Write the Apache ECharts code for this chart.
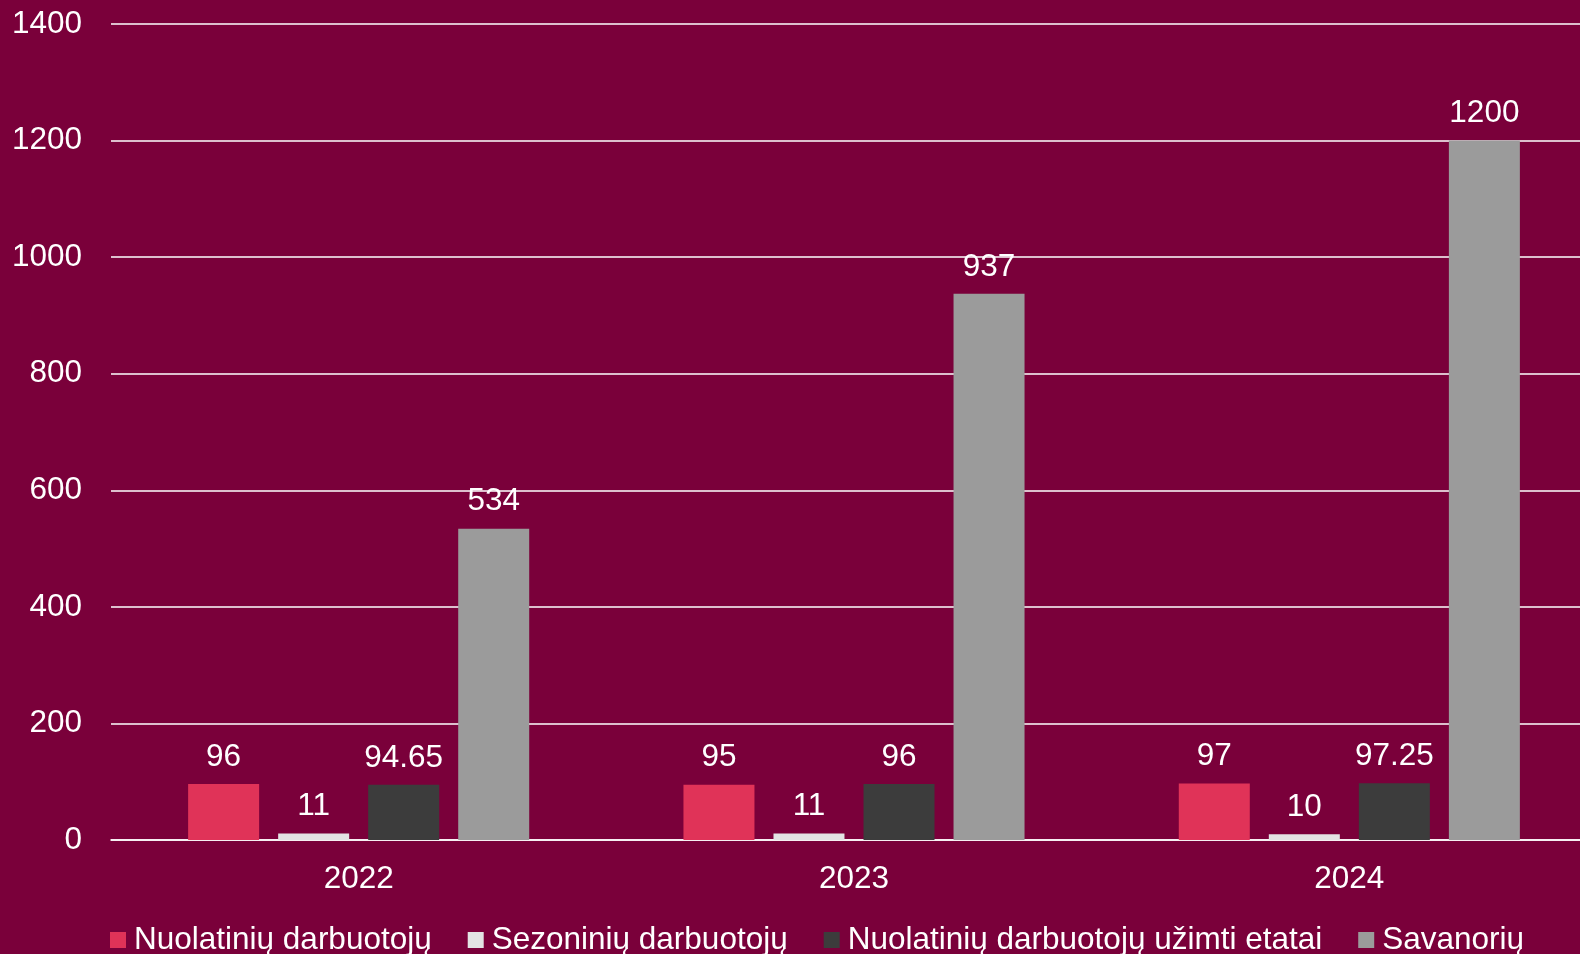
<!DOCTYPE html>
<html>
<head>
<meta charset="utf-8">
<script src="https://cdn.jsdelivr.net/npm/echarts@6/dist/echarts.min.js"></script>
<style>
html,body{margin:0;padding:0;background:#7a003a;overflow:hidden;width:1580px;height:954px;}
#c{width:1600px;height:954px;}
</style>
</head>
<body>
<div id="c"></div>
<script>
const categories = ['2022', '2023', '2024'];
const seriesNames = ['Nuolatinių darbuotojų', 'Sezoninių darbuotojų', 'Nuolatinių darbuotojų užimti etatai', 'Savanorių'];
const nuolatiniu = [96, 95, 97];
const sezoniniu = [11, 11, 10];
const etatai = [94.65, 96, 97.25];
const savanoriu = [534, 937, 1200];
const yTicks = [0, 200, 400, 600, 800, 1000, 1200, 1400];

const colors = ['#e03358', '#e3e3e3', '#3c3c3c', '#9b9b9b'];
const values = [nuolatiniu, sezoniniu, etatai, savanoriu];
const FONT = '"Liberation Sans", Arial, sans-serif';
const FS = 31.5;

const chart = echarts.init(document.getElementById('c'), null, {renderer: 'canvas'});
chart.setOption({
  backgroundColor: '#7a003a',
  animation: false,
  textStyle: {fontFamily: FONT},
  grid: {left: 111, top: 24, width: 1486, height: 816, containLabel: false},
  legend: {
    left: 105, top: 919,
    itemWidth: 16, itemHeight: 16, itemGap: 36,
    icon: 'rect',
    textStyle: {color: '#ffffff', fontSize: FS, fontFamily: FONT, padding: [0, 0, 0, 3]},
    data: seriesNames
  },
  xAxis: {
    type: 'category',
    data: categories,
    axisLine: {show: true, lineStyle: {color: '#ffffff', width: 1.6}},
    axisTick: {show: false},
    axisLabel: {color: '#ffffff', fontSize: FS, margin: 23, fontFamily: FONT}
  },
  yAxis: {
    type: 'value',
    min: yTicks[0], max: yTicks[yTicks.length - 1], interval: 200,
    axisLine: {show: false},
    axisTick: {show: false},
    splitLine: {lineStyle: {color: '#ffffff', width: 1.6}},
    axisLabel: {color: '#ffffff', fontSize: FS, margin: 29, fontFamily: FONT, padding: [5, 0, 0, 0], formatter: v => String(v)}
  },
  series: seriesNames.map((n, i) => ({
    name: n,
    type: 'bar',
    data: values[i],
    barWidth: 71,
    barGap: '26.8%',
    itemStyle: {color: colors[i]},
    label: {show: true, position: 'top', distance: 11, color: '#ffffff', fontSize: FS, fontFamily: FONT}
  }))
});
</script>
</body>
</html>
